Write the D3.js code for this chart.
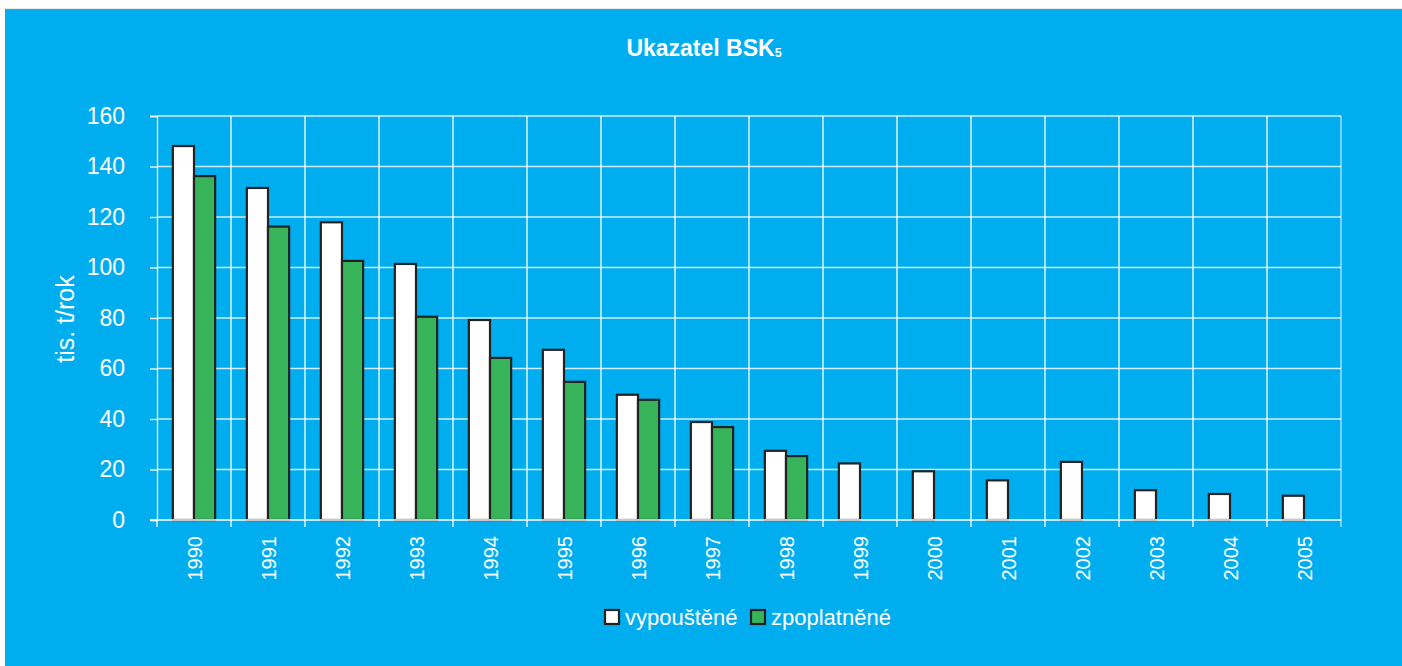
<!DOCTYPE html>
<html><head><meta charset="utf-8">
<script src="https://cdn.jsdelivr.net/npm/d3@7"></script>
<style>body{margin:0;background:#fff}svg{display:block}text{font-family:"Liberation Sans",Arial,sans-serif}</style>
</head><body><svg id="c" width="1402" height="666"></svg>
<script>
const years = ["1990","1991","1992","1993","1994","1995","1996","1997","1998","1999","2000","2001","2002","2003","2004","2005"];
const vypoustene = [148.1,131.5,117.9,101.4,79.2,67.4,49.6,38.8,27.4,22.4,19.3,15.7,23.0,11.8,10.3,9.6];
const zpoplatnene = [136.2,116.2,102.6,80.5,64.2,54.7,47.6,36.8,25.3,null,null,null,null,null,null,null];
const yTicks = [0,20,40,60,80,100,120,140,160];
const seriesNames = ["vypouštěné","zpoplatněné"];
const seriesColors = ["#ffffff","#37b459"];

const svg = d3.select("#c");
const W = 1402, H = 666;
svg.append("rect").attr("x",5).attr("y",9).attr("width",W-5).attr("height",H-9).attr("fill","#00aeef");
svg.append("line").attr("x1",5).attr("x2",W).attr("y1",9).attr("y2",9).attr("stroke","#9aa").attr("stroke-width",0.5);

const L=157, R=1341, T=116, B=520;
const x = d3.scaleBand().domain(years).range([L,R]).paddingInner(0).paddingOuter(0);
const y = d3.scaleLinear().domain([0,160]).range([B,T]);
const bw = x.bandwidth()/3.5;

// horizontal gridlines
svg.append("g").selectAll("line").data(yTicks.slice(1)).join("line")
  .attr("x1",L).attr("x2",R).attr("y1",d=>y(d)).attr("y2",d=>y(d))
  .attr("stroke","rgba(255,255,255,0.8)").attr("stroke-width",1.3);
// vertical gridlines
svg.append("g").selectAll("line").data(years.slice(1).concat(["end"])).join("line")
  .attr("x1",(d,i)=>L+(i+1)*x.bandwidth()).attr("x2",(d,i)=>L+(i+1)*x.bandwidth())
  .attr("y1",T).attr("y2",B+7)
  .attr("stroke",(d,i)=>i===years.length-1?"rgba(255,255,255,0.7)":"#ffffff").attr("stroke-width",1.3);

// y axis
const ya = svg.append("g").attr("transform",`translate(${L},0)`)
  .call(d3.axisLeft(y).tickValues(yTicks).tickSize(7).tickPadding(25));
ya.select(".domain").attr("stroke","#fff").attr("stroke-width",1.3);
ya.selectAll(".tick line").attr("stroke","#fff").attr("stroke-width",1.3);
ya.selectAll(".tick text").attr("fill","#fff").attr("font-size",23).attr("font-family","Liberation Sans, Arial, sans-serif");

// bars
const g = svg.append("g");
years.forEach((yr,i)=>{
  const x0 = x(yr) + 0.75*bw;
  [vypoustene[i], zpoplatnene[i]].forEach((v,s)=>{
    if(v==null) return;
    g.append("rect").attr("x",x0+s*bw).attr("y",y(v)).attr("width",bw).attr("height",y(0)-y(v))
      .attr("fill",seriesColors[s]).attr("stroke","#222").attr("stroke-width",2.2);
  });
});

// x axis
const xa = svg.append("g").attr("transform",`translate(0,${B})`);
xa.append("line").attr("x1",L-7).attr("x2",R).attr("y1",0).attr("y2",0).attr("stroke","#fff").attr("stroke-width",1.5);
xa.append("line").attr("x1",L).attr("x2",L).attr("y1",0).attr("y2",7).attr("stroke","#fff").attr("stroke-width",1.3);
xa.selectAll("text").data(years).join("text")
  .attr("transform",d=>`translate(${x(d)+x.bandwidth()/2+7.5},${16}) rotate(-90)`)
  .attr("text-anchor","end").attr("fill","#fff").attr("font-size",20).text(d=>d);

// title
const title = svg.append("text").attr("x",704).attr("y",56).attr("text-anchor","middle")
  .attr("fill","#fff").attr("font-weight","bold").attr("font-size",23);
title.append("tspan").text("Ukazatel BSK");
title.append("tspan").attr("font-size",12.5).attr("dy",1).text("5");

// y axis title
svg.append("text").attr("transform","translate(74,319) rotate(-90)").attr("text-anchor","middle")
  .attr("fill","#fff").attr("font-size",25).text("tis. t/rok");

// legend
const lg = svg.append("g");
const lx = [604, 750];
seriesNames.forEach((n,i)=>{
  lg.append("rect").attr("x",lx[i]+1).attr("y",610).attr("width",14).attr("height",14)
    .attr("fill",seriesColors[i]).attr("stroke","#222").attr("stroke-width",2.2);
  lg.append("text").attr("x",lx[i]+21).attr("y",625).attr("fill","#fff").attr("font-size",22).text(n);
});
</script></body></html>
